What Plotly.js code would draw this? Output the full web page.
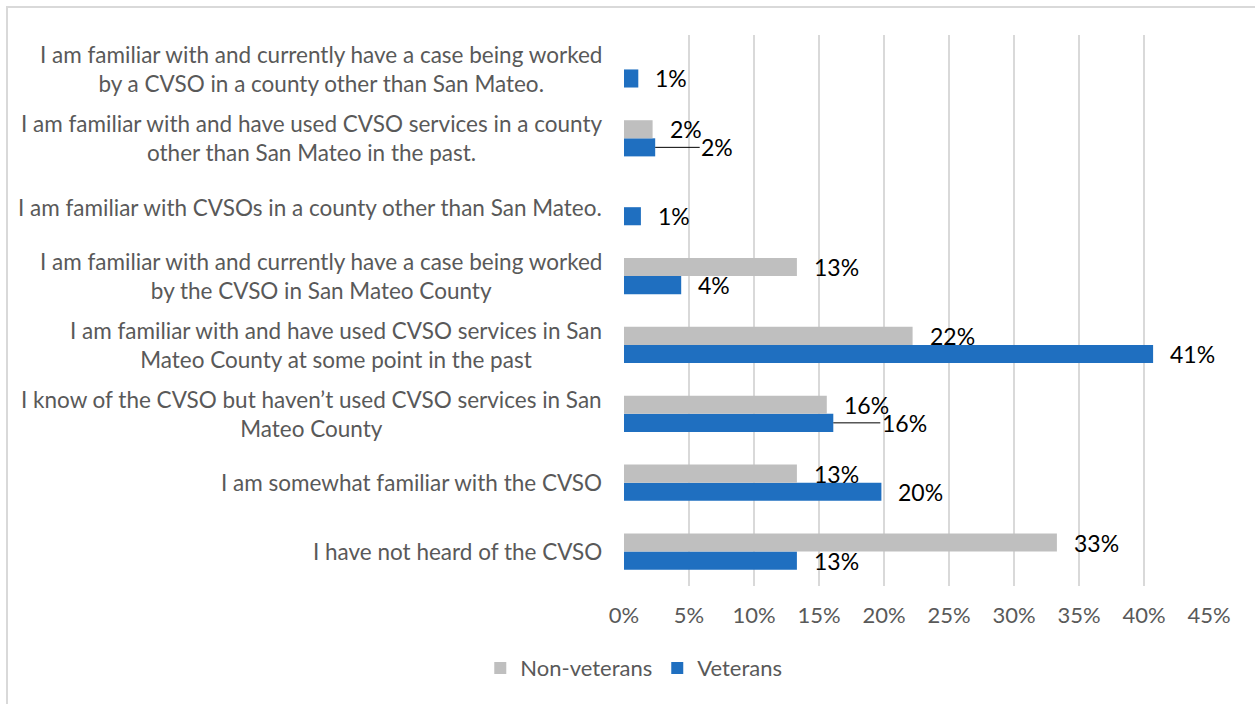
<!DOCTYPE html>
<html><head><meta charset="utf-8">
<script src="https://cdn.plot.ly/plotly-3.0.1.min.js"></script>
<style>
html,body{margin:0;padding:0;background:#fff;overflow:hidden}
#chart{width:1255px;height:704px}
#frame{position:absolute;left:6px;top:6px;width:1300px;height:800px;border-top:2px solid #D9D9D9;border-left:2px solid #D9D9D9;pointer-events:none}
</style></head><body>
<div id="chart"></div><div id="frame"></div>
<script>
// categories listed bottom to top
const categories = [
  "I have not heard of the CVSO",
  "I am somewhat familiar with the CVSO",
  "I know of the CVSO but haven\u2019t used CVSO services in San<br>Mateo County",
  "I am familiar with and have used CVSO services in San<br>Mateo County at some point in the past",
  "I am familiar with and currently have a case being worked<br>by the CVSO in San Mateo County",
  "I am familiar with CVSOs in a county other than San Mateo.",
  "I am familiar with and have used CVSO services in a county<br>other than San Mateo in the past.",
  "I am familiar with and currently have a case being worked<br>by a CVSO in a county other than San Mateo."
];
const veterans    = [13.3, 19.8, 16.1, 40.7, 4.4, 1.3, 2.4, 1.1];
const nonVeterans = [33.3, 13.3, 15.6, 22.2, 13.3, 0, 2.2, 0];
const xTicks = [0, 5, 10, 15, 20, 25, 30, 35, 40, 45];
const xTickLabels = ["0%", "5%", "10%", "15%", "20%", "25%", "30%", "35%", "40%", "45%"];
// veteran labels drawn with a leader line (index -> pixel offset)
const veteranLeaders = {2: 71, 6: 62};

const FONT = "Lato, 'Open Sans', sans-serif";
const GREY_TXT = "#595959";
const BARGAP = 0.475;
const half = (1 - BARGAP) / 4;

const traces = [
  {type: "bar", orientation: "h", name: "Veterans", y: categories, x: veterans,
   marker: {color: "#1F6FC0"}, hoverinfo: "x+y"},
  {type: "bar", orientation: "h", name: "Non-veterans", y: categories, x: nonVeterans,
   marker: {color: "#BFBFBF"}, hoverinfo: "x+y"}
];

const annotations = [];
categories.forEach((c, i) => {
  annotations.push({
    xref: "paper", yref: "y", x: 0, y: i, xshift: -20, xanchor: "right", yanchor: "middle",
    align: "center", text: c, showarrow: false,
    font: {family: FONT, size: 22.5, color: GREY_TXT}
  });
});
function addLabel(val, i, dy, leader) {
  if (!val) return;
  const a = {xref: "x", yref: "y", x: val, y: i + dy, text: Math.round(val) + "%",
    font: {family: FONT, size: 23, color: "#000"}, yanchor: "middle"};
  if (leader) {
    Object.assign(a, {showarrow: true, ax: leader, ay: 0, arrowhead: 0, arrowwidth: 1, arrowcolor: "#000"});
  } else {
    Object.assign(a, {showarrow: false, xanchor: "left", xshift: 15});
  }
  annotations.push(a);
}
veterans.forEach((v, i) => addLabel(v, i, -half, veteranLeaders[i]));
nonVeterans.forEach((v, i) => addLabel(v, i, half, null));

const layout = {
  width: 1255, height: 704,
  margin: {l: 624, r: 46, t: 35, b: 118},
  paper_bgcolor: "#fff", plot_bgcolor: "#fff",
  barmode: "group", bargap: BARGAP, bargroupgap: 0,
  showlegend: true,
  legend: {orientation: "h", xref: "container", yref: "container", x: 0.505, y: 0.051,
    xanchor: "center", yanchor: "middle", traceorder: "reversed",
    font: {family: FONT, size: 22, color: GREY_TXT}, itemwidth: 30},
  xaxis: {range: [0, 45], tickvals: xTicks, ticktext: xTickLabels, showgrid: true,
    gridcolor: "#D9D9D9", gridwidth: 1.5, zeroline: false, showline: false, ticks: "",
    ticklabelstandoff: 14, tickfont: {family: FONT, size: 22, color: GREY_TXT}, fixedrange: true},
  yaxis: {type: "category", categoryorder: "array", categoryarray: categories,
    showticklabels: false, showgrid: false, zeroline: false, showline: false, ticks: "",
    range: [-0.5, categories.length - 0.5], fixedrange: true},
  annotations: annotations
};
Plotly.newPlot("chart", traces, layout, {displayModeBar: false, staticPlot: true});
</script>
</body></html>
